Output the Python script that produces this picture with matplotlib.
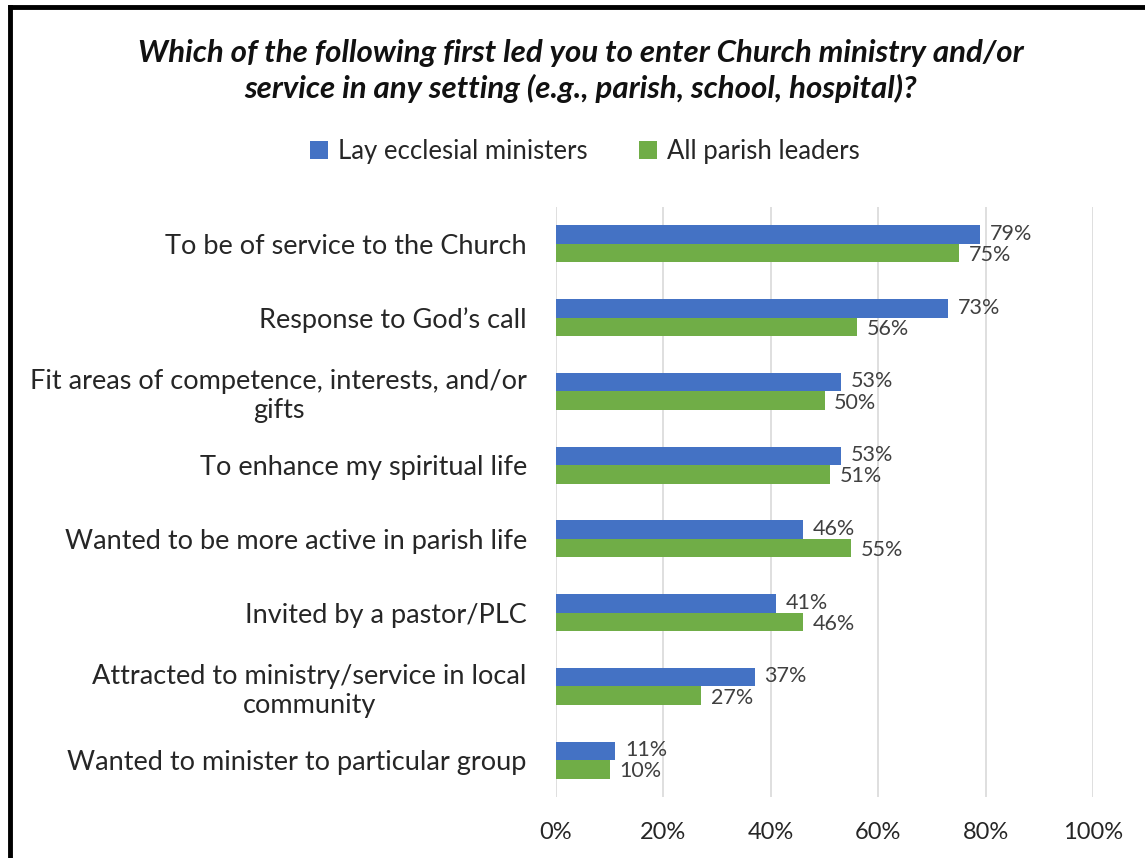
import matplotlib.pyplot as plt
import numpy as np
from matplotlib.lines import Line2D

plt.rcParams['font.family'] = ['Lato', 'DejaVu Sans']

categories = [
    "To be of service to the Church",
    "Response to God\u2019s call",
    "Fit areas of competence, interests, and/or\ngifts",
    "To enhance my spiritual life",
    "Wanted to be more active in parish life",
    "Invited by a pastor/PLC",
    "Attracted to ministry/service in local\ncommunity",
    "Wanted to minister to particular group",
]
lay_ministers = [79, 73, 53, 53, 46, 41, 37, 11]
all_leaders = [75, 56, 50, 51, 55, 46, 27, 10]
series_names = ["Lay ecclesial ministers", "All parish leaders"]
xticks = [0, 20, 40, 60, 80, 100]

blue = '#4472C4'
green = '#70AD47'

fig = plt.figure(figsize=(11.45, 8.58), dpi=100)
ax = fig.add_axes([0.4856, 0.0711, 0.4690, 0.6876])

y = np.arange(len(categories))
h = 0.25
b1 = ax.barh(y - h / 2, lay_ministers, height=h, color=blue, label=series_names[0])
b2 = ax.barh(y + h / 2, all_leaders, height=h, color=green, label=series_names[1])

for bars, vals, dy in [(b1, lay_ministers, 0.5), (b2, all_leaders, -1.5)]:
    for bar, v in zip(bars, vals):
        ax.annotate(f"{v}%", (bar.get_width(), bar.get_y() + bar.get_height() / 2),
                    xytext=(7, dy), textcoords='offset points', va='center', ha='left',
                    fontsize=15.5, color='#404040')

ax.set_ylim(len(categories) - 0.5, -0.5)
ax.set_xlim(0, 100)
ax.set_yticks(y)
ax.set_yticklabels(categories, fontsize=19.5, color='#262626', linespacing=1.2)
for lbl in ax.get_yticklabels():
    lbl.set_multialignment('center')
ax.set_xticks(xticks)
ax.set_xticklabels([f"{t}%" for t in xticks], fontsize=17, color='#262626')
ax.tick_params(axis='both', length=0)
ax.tick_params(axis='y', pad=21)
ax.tick_params(axis='x', pad=18)
ax.grid(axis='x', color='#d9d9d9', linewidth=1.2)
ax.set_axisbelow(True)
for s in ax.spines.values():
    s.set_visible(False)

fig.text(0.507, 0.917, "Which of the following first led you to enter Church ministry and/or\n"
         "service in any setting (e.g., parish, school, hospital)?",
         ha='center', va='center', fontsize=22.5, fontweight='bold', style='italic',
         linespacing=1.3, color='#111111')

fig.legend(handles=[b1, b2], labels=series_names, loc='center', ncol=2,
           bbox_to_anchor=(0.511, 0.823), frameon=False, fontsize=18.5,
           handlelength=0.7, handleheight=0.7, handletextpad=0.4, columnspacing=2.0,
           labelcolor='#262626')

# black frame on top and left edges
fig.add_artist(Line2D([0.0083, 0.0083], [0, 0.9913], color='black', linewidth=3.5,
                      transform=fig.transFigure))
fig.add_artist(Line2D([0.0083, 1.0], [0.9913, 0.9913], color='black', linewidth=3.5,
                      transform=fig.transFigure))

fig.savefig('out.png', dpi=100)
